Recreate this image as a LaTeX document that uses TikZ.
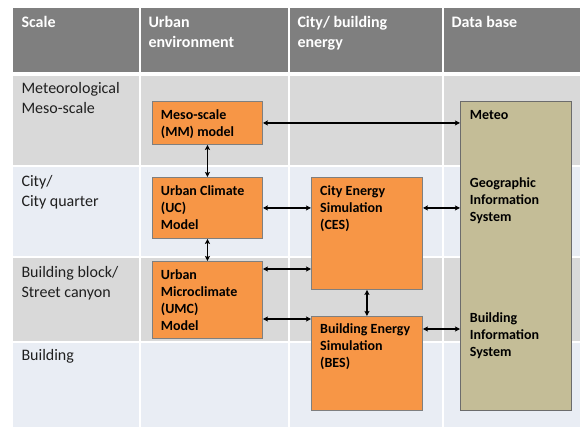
\documentclass[tikz,border=0pt]{standalone}
\usepackage{fontspec}
\setmainfont{Carlito}
\usetikzlibrary{arrows.meta}
\definecolor{hdr}{HTML}{7F7F7F}
\definecolor{rowgray}{HTML}{D9D9D9}
\definecolor{rowblue}{HTML}{E9EDF4}
\definecolor{orng}{HTML}{F79646}
\definecolor{tanbox}{HTML}{C4BD97}
\definecolor{boxline}{HTML}{7F7F7F}
\begin{document}
\begin{tikzpicture}[x=1pt,y=-1pt,
  hdrtext/.style={anchor=north west, inner sep=0pt, align=left, text=white, font=\fontsize{16}{20}\selectfont\bfseries},
  rowtext/.style={anchor=north west, inner sep=0pt, align=left, text=black!88, font=\fontsize{16}{20}\selectfont},
  boxtext/.style={anchor=north west, inner sep=0pt, align=left, text=black, font=\fontsize{14}{17}\selectfont\bfseries},
  obox/.style={draw=boxline, line width=0.9pt, fill=orng, anchor=north west, inner sep=0pt},
  dbbox/.style={draw=boxline!85!black, line width=1.1pt, fill=tanbox, anchor=north west, inner sep=0pt},
  arr/.style={{Stealth[length=5pt,width=5pt,inset=1pt]}-{Stealth[length=5pt,width=5pt,inset=1pt]}, line width=1.3pt, black}
]
\useasboundingbox (0,0) rectangle (580,427);
\fill[white] (0,0) rectangle (580,427);
% header row
\fill[hdr] (13,8) rectangle (139,72);
\fill[hdr] (141,8) rectangle (288,72);
\fill[hdr] (290,8) rectangle (442,72);
\fill[hdr] (444,8) rectangle (580,72);
% body rows
\foreach \ya/\yb/\c in {76/165/rowgray, 167/256/rowblue, 258/341/rowgray, 343/427/rowblue}{
  \fill[\c] (13,\ya) rectangle (139,\yb);
  \fill[\c] (141,\ya) rectangle (288,\yb);
  \fill[\c] (290,\ya) rectangle (442,\yb);
  \fill[\c] (444,\ya) rectangle (580,\yb);
}
% header texts
\node[hdrtext] (h1) at (21.3,16) {Scale};
\node[hdrtext] (h2) at (148.3,16) {Urban\\environment};
\node[hdrtext] (h3) at (297.3,16) {City/ building\\energy};
\node[hdrtext] (h4) at (451.3,16) {Data base};
% row labels
\node[rowtext] (r1) at (21.3,82) {Meteorological\\Meso-scale};
\node[rowtext] (r2) at (21.3,175) {City/\\City quarter};
\node[rowtext] (r3) at (21.3,266) {Building block/\\Street canyon};
\node[rowtext] (r4) at (21.3,349.5) {Building};
% boxes
\node[obox, minimum width=110pt, minimum height=43pt] (mm) at (152,101) {};
\node[obox, minimum width=110pt, minimum height=61pt] (uc) at (152,177) {};
\node[obox, minimum width=110pt, minimum height=77pt] (umc) at (152,261) {};
\node[obox, minimum width=111pt, minimum height=112pt] (ces) at (311,177) {};
\node[obox, minimum width=111pt, minimum height=94pt] (bes) at (311,316) {};
\node[dbbox, minimum width=111pt, minimum height=309pt] (db) at (460,101) {};
% box texts
\node[boxtext] (mmt) at (160.7,109.5) {Meso-scale\\(MM) model};
\node[boxtext] (uct) at (160.7,185.5) {Urban Climate\\(UC)\\Model};
\node[boxtext] (umct) at (160.7,269.5) {Urban\\Microclimate\\(UMC)\\Model};
\node[boxtext] (cest) at (320,185.5) {City Energy\\Simulation\\(CES)};
\node[boxtext] (best) at (320,323.8) {Building Energy\\Simulation\\(BES)};
\node[boxtext] (dbt1) at (469.7,110) {Meteo};
\node[boxtext] (dbt2) at (469.7,177.5) {Geographic\\Information\\System};
\node[boxtext] (dbt3) at (469.7,312) {Building\\Information\\System};
% connectors
\coordinate (u1) at ([yshift=-8pt]umc.north east);
\coordinate (u2) at ([yshift=-3pt]bes.north west);
\coordinate (b1) at ([yshift=-13pt]bes.north east);
\draw[arr] (mm.east) -- (mm.east -| db.west);
\draw[arr] (mm.south) -- (uc.north);
\draw[arr] (uc.south) -- (umc.north);
\draw[arr] (uc.east) -- (uc.east -| ces.west);
\draw[arr] (uc.east -| ces.east) -- (uc.east -| db.west);
\draw[arr] (u1) -- (u1 -| ces.west);
\draw[arr] (u2 -| umc.east) -- (u2);
\draw[arr] (ces.south) -- (bes.north);
\draw[arr] (b1) -- (b1 -| db.west);
\end{tikzpicture}
\end{document}
